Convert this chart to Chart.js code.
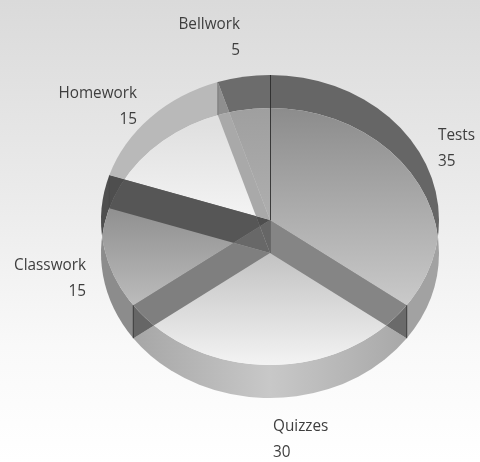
<!DOCTYPE html>
<html><head><meta charset="utf-8">
<script src="https://cdn.jsdelivr.net/npm/chart.js@4/dist/chart.umd.min.js"></script>
<style>
html,body{margin:0;padding:0;width:480px;height:462px;overflow:hidden;background:linear-gradient(#dadada 0,#ececec 45%,#f9f9f9 75%,#fff 100%)}
#wrap{position:absolute;left:0;top:0;width:480px;height:462px}
canvas{filter:blur(.45px)}
</style></head><body>
<div id="wrap"><canvas id="c" width="480" height="462"></canvas></div>
<script>
const categories = ["Tests","Quizzes","Classwork","Homework","Bellwork"];
const values = [35,30,15,15,5];

// tilt of the pie: top rim and bottom disc
const UP_Y=220, LOW_Y=253, SQUASH=145/169;
// label anchors: [x, y of first line, align]
const anchors=[[438,135,'left'],[273,426,'left'],[86,265,'right'],[137,93,'right'],[240,24,'right']];
const faceStops=[[108,'#8c8c8c',300,'#c8c8c8'],[253,'#c2c2c2',365,'#f3f3f3'],[195,'#8a8a8a',320,'#c2c2c2'],[125,'#e0e0e0',215,'#f3f3f3'],[100,'#9e9e9e',215,'#aeaeae']];
const rimCol=['#666666',null,'#4e4e4e','#b9b9b9','#6c6c6c'];
const frontCol=['#a2a2a2','#bdbdbd','#8c8c8c',null,null];
const cornerCol=['#6a6a6a','#666666','#4e4e4e','#8f8f8f'];
const edgeAlpha=[.75,.75,.1,.3];
const bands=[[1,0,'#858585'],[1,2,'#7f7f7f'],[1,3,'#686868'],[1,4,'#666666'],[2,3,'#565656'],[2,4,'#4e4e4e'],[3,4,'#a9a9a9']];

function sector(ctx,el,cy,s,e){
  ctx.beginPath();ctx.moveTo(el.x,cy);
  ctx.ellipse(el.x,cy,el.outerRadius,el.outerRadius*SQUASH,0,s??el.startAngle,e??el.endAngle);
  ctx.closePath();
}
function disc(ctx,el,cy){ctx.ellipse(el.x,cy,el.outerRadius,el.outerRadius*SQUASH,0,0,Math.PI*2);}
function rimPoint(el,a,cy){return [el.x+el.outerRadius*Math.cos(a),cy+el.outerRadius*SQUASH*Math.sin(a)];}

const tiltPlugin={
  id:'tilt',
  beforeDatasetDraw(chart){
    const ctx=chart.ctx,arcs=chart.getDatasetMeta(0).data;
    ctx.save();
    arcs.forEach((el,i)=>{
      if(rimCol[i]){ctx.save();sector(ctx,el,UP_Y);ctx.clip();
        ctx.beginPath();ctx.rect(0,0,480,462);disc(ctx,el,LOW_Y);ctx.clip('evenodd');
        ctx.fillStyle=rimCol[i];ctx.fillRect(0,0,480,462);ctx.restore();}
      if(frontCol[i]){ctx.save();sector(ctx,el,LOW_Y);ctx.clip();
        ctx.beginPath();ctx.rect(0,0,480,462);disc(ctx,el,UP_Y);ctx.clip('evenodd');
        let fs=frontCol[i];
        if(i===1){const g=ctx.createLinearGradient(133,0,406,0);
          g.addColorStop(0,'#a6a6a6');g.addColorStop(.5,'#c8c8c8');g.addColorStop(1,'#a8a8a8');fs=g;}
        ctx.fillStyle=fs;ctx.fillRect(0,0,480,462);ctx.restore();}
    });
    // radial walls between neighbouring slices
    arcs.slice(0,4).forEach((el,i)=>{
      const a=el.endAngle,p=rimPoint(el,a,UP_Y),q=rimPoint(el,a,LOW_Y);
      ctx.beginPath();ctx.moveTo(el.x,UP_Y);ctx.lineTo(p[0],p[1]);ctx.lineTo(q[0],q[1]);ctx.lineTo(el.x,LOW_Y);ctx.closePath();
      ctx.fillStyle=cornerCol[i];ctx.fill();
    });
    // faces: the library's arcs, tilted and kept inside the lower disc
    const el0=arcs[0];
    ctx.beginPath();disc(ctx,el0,LOW_Y);ctx.clip();
    ctx.translate(el0.x,UP_Y);ctx.scale(1,SQUASH);ctx.translate(-el0.x,-el0.y);
  },
  afterDatasetDraw(chart){
    const ctx=chart.ctx,arcs=chart.getDatasetMeta(0).data;
    ctx.restore();
    bands.forEach(([u,l,col])=>{
      ctx.save();sector(ctx,arcs[u],UP_Y);ctx.clip();sector(ctx,arcs[l],LOW_Y);ctx.clip();
      ctx.fillStyle=col;ctx.fillRect(0,0,480,462);ctx.restore();
    });
    const e=arcs[0];
    ctx.lineWidth=1;
    ctx.strokeStyle='rgba(40,40,40,.85)';
    ctx.beginPath();ctx.moveTo(e.x+.5,UP_Y-e.outerRadius*SQUASH);ctx.lineTo(e.x+.5,UP_Y);ctx.stroke();
    ctx.strokeStyle='rgba(40,40,40,.3)';
    ctx.beginPath();ctx.moveTo(e.x+.5,UP_Y);ctx.lineTo(e.x+.5,LOW_Y);ctx.stroke();
    arcs.slice(0,4).forEach((el,i)=>{
      const p=rimPoint(el,el.endAngle,UP_Y),q=rimPoint(el,el.endAngle,LOW_Y);
      ctx.strokeStyle='rgba(40,40,40,'+edgeAlpha[i]+')';
      ctx.beginPath();ctx.moveTo(p[0],p[1]);ctx.lineTo(q[0],q[1]);ctx.stroke();
    });
  },
  afterDraw(chart){
    const ctx=chart.ctx;
    ctx.save();
    ctx.font='17px "Open Sans"';ctx.fillStyle='#3e3e3e';ctx.textBaseline='middle';
    const squeeze=.9;
    categories.forEach((name,i)=>{
      const [x,y,al]=anchors[i];
      ctx.save();
      ctx.translate(x,0);ctx.scale(squeeze,1);
      ctx.textAlign=al;
      ctx.fillText(name,0,y);
      ctx.fillText(String(values[i]),0,y+26);
      ctx.restore();
    });
    ctx.restore();
  }
};

new Chart(document.getElementById('c'),{
  type:'pie',
  data:{labels:categories,datasets:[{
    data:values,clip:false,borderWidth:0,
    backgroundColor(c){
      const a=c.chart.chartArea,s=faceStops[c.dataIndex];
      if(!a||!s)return '#ccc';
      const cy=(a.top+a.bottom)/2,toUser=Y=>cy+(Y-UP_Y)/SQUASH;
      const g=c.chart.ctx.createLinearGradient(0,toUser(s[0]),0,toUser(s[2]));
      g.addColorStop(0,s[1]);g.addColorStop(1,s[3]);
      return g;
    }
  }]},
  options:{
    responsive:false,animation:false,
    layout:{padding:{left:101,right:41,top:67.5,bottom:56.5}},
    plugins:{legend:{display:false},tooltip:{enabled:false},title:{display:false}},
    elements:{arc:{borderWidth:0}}
  },
  plugins:[tiltPlugin]
});
</script>
</body></html>
